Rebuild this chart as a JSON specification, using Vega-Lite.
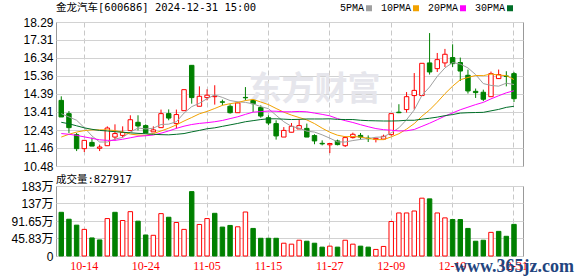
{
 "$schema": "https://vega.github.io/schema/vega-lite/v6.json",
 "background": "#ffffff",
 "padding": {"left": 10, "top": 2, "right": 0, "bottom": 0},
 "autosize": {"type": "pad"},
 "spacing": 20,
 "bounds": "flush",
 "config": {
  "view": {"stroke": "#999999", "strokeWidth": 1},
  "axis": {"title": null, "domain": false, "ticks": false, "labelFont": "Liberation Sans, Noto Sans CJK SC", "labelFontSize": 12, "labelColor": "#000000", "gridColor": "#d2d2d2", "gridWidth": 1, "labelFlush": false, "labelOverlap": false}
 },
 "datasets": {"k": [
  {"d":"10-09","o":14.04,"h":14.26,"l":13.14,"c":13.14,"v":114.4,"vd":"down","5PMA":13.32,"10PMA":12.05,"20PMA":12.24,"30PMA":12.85},
  {"d":"10-10","o":13.32,"h":13.46,"l":12.27,"c":12.56,"v":96.3,"vd":"down","5PMA":13.14,"10PMA":12.20,"20PMA":12.20,"30PMA":12.77},
  {"d":"10-11","o":12.18,"h":12.27,"l":11.29,"c":11.42,"v":80.8,"vd":"down","5PMA":12.96,"10PMA":12.32,"20PMA":12.14,"30PMA":12.66},
  {"d":"10-14","o":11.42,"h":11.87,"l":11.24,"c":11.87,"v":69.7,"vd":"up","5PMA":12.56,"10PMA":12.40,"20PMA":12.06,"30PMA":12.55},
  {"d":"10-15","o":11.76,"h":12.02,"l":11.56,"c":11.56,"v":47.3,"vd":"down","5PMA":12.11,"10PMA":12.44,"20PMA":11.98,"30PMA":12.47},
  {"d":"10-16","o":11.44,"h":11.64,"l":11.29,"c":11.51,"v":42.1,"vd":"down","5PMA":11.78,"10PMA":12.44,"20PMA":11.90,"30PMA":12.41},
  {"d":"10-17","o":11.58,"h":12.63,"l":11.58,"c":12.54,"v":98.0,"vd":"up","5PMA":11.78,"10PMA":12.44,"20PMA":11.87,"30PMA":12.38},
  {"d":"10-18","o":12.05,"h":12.74,"l":11.87,"c":12.24,"v":114.4,"vd":"down","5PMA":11.94,"10PMA":12.40,"20PMA":11.87,"30PMA":12.34},
  {"d":"10-21","o":12.14,"h":12.63,"l":12.02,"c":12.30,"v":92.9,"vd":"up","5PMA":12.03,"10PMA":12.32,"20PMA":11.93,"30PMA":12.31},
  {"d":"10-22","o":12.40,"h":13.23,"l":12.40,"c":12.99,"v":116.1,"vd":"up","5PMA":12.32,"10PMA":12.21,"20PMA":12.01,"30PMA":12.28},
  {"d":"10-23","o":12.85,"h":13.23,"l":12.41,"c":12.65,"v":91.2,"vd":"down","5PMA":12.54,"10PMA":12.16,"20PMA":12.09,"30PMA":12.25},
  {"d":"10-24","o":12.67,"h":12.74,"l":12.27,"c":12.27,"v":55.0,"vd":"down","5PMA":12.49,"10PMA":12.14,"20PMA":12.12,"30PMA":12.23},
  {"d":"10-25","o":12.33,"h":12.63,"l":12.33,"c":12.44,"v":54.2,"vd":"up","5PMA":12.53,"10PMA":12.24,"20PMA":12.16,"30PMA":12.20},
  {"d":"10-28","o":12.56,"h":13.54,"l":12.56,"c":13.32,"v":111.0,"vd":"up","5PMA":12.73,"10PMA":12.38,"20PMA":12.26,"30PMA":12.18},
  {"d":"10-29","o":13.32,"h":13.55,"l":12.96,"c":13.08,"v":101.5,"vd":"down","5PMA":12.75,"10PMA":12.53,"20PMA":12.38,"30PMA":12.17},
  {"d":"10-30","o":12.78,"h":13.54,"l":12.51,"c":13.27,"v":87.7,"vd":"up","5PMA":12.88,"10PMA":12.71,"20PMA":12.52,"30PMA":12.20},
  {"d":"10-31","o":13.48,"h":14.62,"l":13.48,"c":14.62,"v":69.7,"vd":"up","5PMA":13.35,"10PMA":12.92,"20PMA":12.64,"30PMA":12.24},
  {"d":"11-01","o":15.94,"h":15.94,"l":13.86,"c":14.19,"v":168.6,"vd":"down","5PMA":13.70,"10PMA":13.11,"20PMA":12.73,"30PMA":12.33},
  {"d":"11-04","o":13.72,"h":14.80,"l":13.72,"c":14.26,"v":82.6,"vd":"up","5PMA":13.88,"10PMA":13.31,"20PMA":12.79,"30PMA":12.41},
  {"d":"11-05","o":14.19,"h":14.64,"l":14.04,"c":14.32,"v":98.0,"vd":"up","5PMA":14.13,"10PMA":13.44,"20PMA":12.83,"30PMA":12.50},
  {"d":"11-06","o":14.24,"h":14.86,"l":13.81,"c":14.27,"v":111.8,"vd":"down","5PMA":14.33,"10PMA":13.60,"20PMA":12.88,"30PMA":12.55},
  {"d":"11-07","o":13.96,"h":14.08,"l":13.77,"c":13.94,"v":75.7,"vd":"down","5PMA":14.20,"10PMA":13.77,"20PMA":12.95,"30PMA":12.63},
  {"d":"11-08","o":13.72,"h":13.83,"l":13.32,"c":13.37,"v":80.0,"vd":"down","5PMA":14.03,"10PMA":13.86,"20PMA":13.05,"30PMA":12.71},
  {"d":"11-11","o":13.37,"h":13.97,"l":13.37,"c":13.90,"v":76.5,"vd":"up","5PMA":13.96,"10PMA":13.92,"20PMA":13.15,"30PMA":12.79},
  {"d":"11-12","o":14.20,"h":14.76,"l":14.04,"c":14.18,"v":115.2,"vd":"up","5PMA":13.93,"10PMA":14.03,"20PMA":13.28,"30PMA":12.88},
  {"d":"11-13","o":14.04,"h":14.08,"l":13.41,"c":13.86,"v":72.2,"vd":"down","5PMA":13.85,"10PMA":14.09,"20PMA":13.40,"30PMA":12.94},
  {"d":"11-14","o":13.65,"h":13.77,"l":13.10,"c":13.19,"v":46.4,"vd":"down","5PMA":13.70,"10PMA":13.95,"20PMA":13.43,"30PMA":13.00},
  {"d":"11-15","o":13.10,"h":13.23,"l":12.69,"c":12.81,"v":46.4,"vd":"down","5PMA":13.59,"10PMA":13.81,"20PMA":13.46,"30PMA":13.04},
  {"d":"11-18","o":12.78,"h":12.96,"l":11.91,"c":12.11,"v":46.4,"vd":"down","5PMA":13.23,"10PMA":13.60,"20PMA":13.45,"30PMA":13.04},
  {"d":"11-19","o":12.05,"h":12.59,"l":12.05,"c":12.41,"v":33.5,"vd":"up","5PMA":12.88,"10PMA":13.40,"20PMA":13.42,"30PMA":13.02},
  {"d":"11-20","o":12.31,"h":12.81,"l":12.31,"c":12.63,"v":31.0,"vd":"up","5PMA":12.63,"10PMA":13.24,"20PMA":13.42,"30PMA":13.00},
  {"d":"11-21","o":12.49,"h":13.03,"l":12.49,"c":12.67,"v":41.3,"vd":"up","5PMA":12.53,"10PMA":13.11,"20PMA":13.44,"30PMA":13.01},
  {"d":"11-22","o":12.52,"h":12.78,"l":12.05,"c":12.05,"v":38.7,"vd":"down","5PMA":12.37,"10PMA":12.98,"20PMA":13.42,"30PMA":13.03},
  {"d":"11-25","o":12.13,"h":12.20,"l":11.66,"c":11.84,"v":33.5,"vd":"down","5PMA":12.32,"10PMA":12.78,"20PMA":13.35,"30PMA":13.03},
  {"d":"11-26","o":11.71,"h":11.87,"l":11.60,"c":11.68,"v":23.2,"vd":"down","5PMA":12.17,"10PMA":12.53,"20PMA":13.28,"30PMA":13.03},
  {"d":"11-27","o":11.63,"h":11.72,"l":11.18,"c":11.70,"v":25.8,"vd":"up","5PMA":11.99,"10PMA":12.31,"20PMA":13.20,"30PMA":13.04},
  {"d":"11-28","o":11.84,"h":11.91,"l":11.60,"c":11.64,"v":23.2,"vd":"down","5PMA":11.79,"10PMA":12.15,"20PMA":13.05,"30PMA":13.01},
  {"d":"11-29","o":11.58,"h":12.09,"l":11.51,"c":12.02,"v":41.3,"vd":"up","5PMA":11.78,"10PMA":12.07,"20PMA":12.94,"30PMA":13.00},
  {"d":"12-02","o":12.02,"h":12.29,"l":11.97,"c":12.20,"v":31.0,"vd":"up","5PMA":11.86,"10PMA":12.08,"20PMA":12.84,"30PMA":13.00},
  {"d":"12-03","o":12.14,"h":12.27,"l":11.91,"c":12.05,"v":25.8,"vd":"down","5PMA":11.92,"10PMA":12.05,"20PMA":12.72,"30PMA":12.96},
  {"d":"12-04","o":11.99,"h":12.14,"l":11.78,"c":11.96,"v":23.2,"vd":"down","5PMA":11.97,"10PMA":11.98,"20PMA":12.61,"30PMA":12.94},
  {"d":"12-05","o":11.92,"h":12.02,"l":11.76,"c":11.98,"v":17.2,"vd":"up","5PMA":12.04,"10PMA":11.91,"20PMA":12.51,"30PMA":12.93},
  {"d":"12-06","o":11.94,"h":12.18,"l":11.94,"c":12.09,"v":25.0,"vd":"up","5PMA":12.06,"10PMA":11.91,"20PMA":12.45,"30PMA":12.92},
  {"d":"12-09","o":12.18,"h":13.32,"l":12.13,"c":13.32,"v":90.3,"vd":"up","5PMA":12.28,"10PMA":12.06,"20PMA":12.42,"30PMA":12.92},
  {"d":"12-10","o":13.40,"h":13.83,"l":13.35,"c":13.37,"v":112.7,"vd":"up","5PMA":12.55,"10PMA":12.23,"20PMA":12.38,"30PMA":12.93},
  {"d":"12-11","o":13.54,"h":14.49,"l":13.38,"c":14.24,"v":112.7,"vd":"up","5PMA":12.99,"10PMA":12.48,"20PMA":12.39,"30PMA":12.96},
  {"d":"12-12","o":14.30,"h":15.52,"l":13.54,"c":14.58,"v":117.8,"vd":"up","5PMA":13.52,"10PMA":12.78,"20PMA":12.46,"30PMA":12.96},
  {"d":"12-13","o":14.30,"h":16.05,"l":14.30,"c":16.05,"v":151.4,"vd":"up","5PMA":14.31,"10PMA":13.18,"20PMA":12.63,"30PMA":13.02},
  {"d":"12-16","o":16.07,"h":17.69,"l":15.44,"c":15.58,"v":149.6,"vd":"down","5PMA":14.76,"10PMA":13.52,"20PMA":12.80,"30PMA":13.07},
  {"d":"12-17","o":15.76,"h":16.61,"l":15.58,"c":16.25,"v":112.7,"vd":"up","5PMA":15.34,"10PMA":13.94,"20PMA":12.99,"30PMA":13.13},
  {"d":"12-18","o":16.07,"h":16.83,"l":15.85,"c":16.54,"v":99.8,"vd":"up","5PMA":15.80,"10PMA":14.40,"20PMA":13.19,"30PMA":13.21},
  {"d":"12-19","o":16.36,"h":17.08,"l":15.85,"c":16.03,"v":95.5,"vd":"down","5PMA":16.09,"10PMA":14.81,"20PMA":13.36,"30PMA":13.27},
  {"d":"12-20","o":16.09,"h":16.36,"l":15.09,"c":15.63,"v":95.5,"vd":"down","5PMA":16.01,"10PMA":15.16,"20PMA":13.53,"30PMA":13.35},
  {"d":"12-23","o":15.40,"h":15.71,"l":14.41,"c":14.55,"v":72.2,"vd":"down","5PMA":15.80,"10PMA":15.28,"20PMA":13.67,"30PMA":13.37},
  {"d":"12-24","o":14.53,"h":14.68,"l":14.17,"c":14.46,"v":38.7,"vd":"down","5PMA":15.44,"10PMA":15.39,"20PMA":13.81,"30PMA":13.38},
  {"d":"12-25","o":14.48,"h":14.62,"l":14.00,"c":14.10,"v":41.3,"vd":"down","5PMA":14.95,"10PMA":15.38,"20PMA":13.93,"30PMA":13.39},
  {"d":"12-26","o":14.24,"h":15.60,"l":14.24,"c":15.49,"v":61.9,"vd":"up","5PMA":14.85,"10PMA":15.47,"20PMA":14.12,"30PMA":13.47},
  {"d":"12-27","o":15.22,"h":15.71,"l":15.20,"c":15.44,"v":64.5,"vd":"down","5PMA":14.81,"10PMA":15.41,"20PMA":14.29,"30PMA":13.55},
  {"d":"12-30","o":15.36,"h":15.62,"l":14.80,"c":15.34,"v":51.6,"vd":"down","5PMA":14.97,"10PMA":15.38,"20PMA":14.45,"30PMA":13.66},
  {"d":"12-31","o":15.49,"h":15.58,"l":13.95,"c":14.13,"v":82.79,"vd":"down","5PMA":14.90,"10PMA":15.17,"20PMA":14.56,"30PMA":13.72}
 ]},
 "vconcat": [
  {
   "width": 467,
   "height": 144,
   "title": {"text": "金龙汽车[600686] 2024-12-31 15:00", "anchor": "start", "frame": "group", "offset": 2.5, "font": "DejaVu Sans Mono, Noto Sans CJK SC", "fontSize": 10.5, "fontWeight": "normal", "color": "#000000"},
   "layer": [
    {
     "data": {"values": [{"wm": "东方财富", "d": "11-25", "p": 14.6}]},
     "mark": {"type": "text", "font": "Noto Sans CJK SC", "fontSize": 33, "fontWeight": "bold", "color": "#e6e6ec"},
     "encoding": {
      "x": {"field": "d", "type": "ordinal"},
      "y": {"field": "p", "type": "quantitative"},
      "text": {"field": "wm"}
     }
    },
    {
     "data": {"name": "k"},
     "mark": {"type": "rule", "strokeWidth": 1},
     "encoding": {
      "x": {"field": "d", "type": "ordinal", "scale": {"type": "band", "paddingInner": 0.42, "paddingOuter": 0.64, "align": 0.31, "round": false},
            "axis": {"values": ["10-14","10-24","11-05","11-15","11-27","12-09","12-19","12-31"], "bandPosition": 0.5, "labels": false, "grid": true, "gridDash": [5, 3], "gridColor": "#c8c8c8"}},
      "y": {"field": "l", "type": "quantitative", "scale": {"domain": [10.48, 18.29], "nice": false, "zero": false},
            "axis": {"values": [10.48, 11.4563, 12.4324, 13.4088, 14.3851, 15.3613, 16.3376, 17.3138, 18.29], "tickCount": 20, "format": ".2f", "grid": true, "labelPadding": 3, "labelOverlap": false, "labelFlush": false}},
      "y2": {"field": "h"},
      "color": {"condition": {"test": "datum.c >= datum.o", "value": "#ff0000"}, "value": "#008000"}
     }
    },
    {
     "data": {"name": "k"},
     "mark": {"type": "bar", "strokeWidth": 1},
     "encoding": {
      "x": {"field": "d", "type": "ordinal"},
      "y": {"field": "o", "type": "quantitative"},
      "y2": {"field": "c"},
      "fill": {"condition": {"test": "datum.c >= datum.o", "value": "#ffffff"}, "value": "#008000"},
      "stroke": {"condition": {"test": "datum.c >= datum.o", "value": "#ff0000"}, "value": "#008000"}
     }
    },
    {
     "data": {"name": "k"},
     "transform": [{"fold": ["5PMA", "10PMA", "20PMA", "30PMA"], "as": ["ma", "val"]}],
     "mark": {"type": "line", "strokeWidth": 1},
     "encoding": {
      "x": {"field": "d", "type": "ordinal"},
      "y": {"field": "val", "type": "quantitative"},
      "color": {"field": "ma", "type": "nominal",
                "scale": {"domain": ["5PMA", "10PMA", "20PMA", "30PMA"], "range": ["#a0a0a0", "#f2a200", "#ff00ff", "#006e28"]},
                "legend": {"orient": "none", "legendX": 308, "legendY": -19, "direction": "horizontal", "title": null, "symbolType": "square", "symbolSize": 9, "symbolStrokeWidth": 3, "labelFont": "Liberation Mono", "labelFontSize": 10, "labelColor": "#000000", "labelAlign": "right", "labelOffset": -10, "columnPadding": 3, "padding": 0}}
     }
    }
   ]
  },
  {
   "width": 467,
   "height": 70,
   "title": {"text": "成交量:827917", "anchor": "start", "frame": "group", "offset": -5, "font": "DejaVu Sans Mono, Noto Sans CJK SC", "fontSize": 10.5, "fontWeight": "normal", "color": "#000000"},
   "layer": [
    {
     "data": {"name": "k"},
     "mark": {"type": "bar", "strokeWidth": 1},
     "encoding": {
      "x": {"field": "d", "type": "ordinal", "scale": {"type": "band", "paddingInner": 0.42, "paddingOuter": 0.64, "align": 0.31, "round": false},
            "axis": {"values": ["10-14","10-24","11-05","11-15","11-27","12-09","12-19","12-31"], "bandPosition": 0.5, "grid": true, "gridDash": [5, 3], "gridColor": "#c8c8c8", "labelColor": "#ff0000", "labelFont": "Liberation Serif", "labelFontSize": 12, "labelAngle": 0, "labelPadding": 4}},
      "y": {"field": "v", "type": "quantitative", "scale": {"domain": [0, 183.3], "nice": false},
            "axis": {"values": [0, 45.83, 91.65, 137.48, 183.3], "tickCount": 20, "grid": true, "labelPadding": 3, "labelOverlap": false, "labelFlush": false, "labelExpr": "datum.value == 0 ? '0' : (datum.value >= 100 ? format(datum.value, '.0f') : format(datum.value, '.2f')) + '万'"}},
      "fill": {"condition": {"test": "datum.vd == 'up'", "value": "#ffffff"}, "value": "#008000"},
      "stroke": {"condition": {"test": "datum.vd == 'up'", "value": "#ff0000"}, "value": "#008000"}
     }
    },
    {
     "data": {"values": [{"wm": "www.365jz.com", "d": "12-31", "v": -30}]},
     "mark": {"type": "text", "font": "Liberation Serif", "fontSize": 18, "fontWeight": "bold", "color": "#22447e"},
     "encoding": {
      "x": {"field": "d", "type": "ordinal"},
      "y": {"field": "v", "type": "quantitative"},
      "text": {"field": "wm"}
     }
    }
   ]
  }
 ]
}
